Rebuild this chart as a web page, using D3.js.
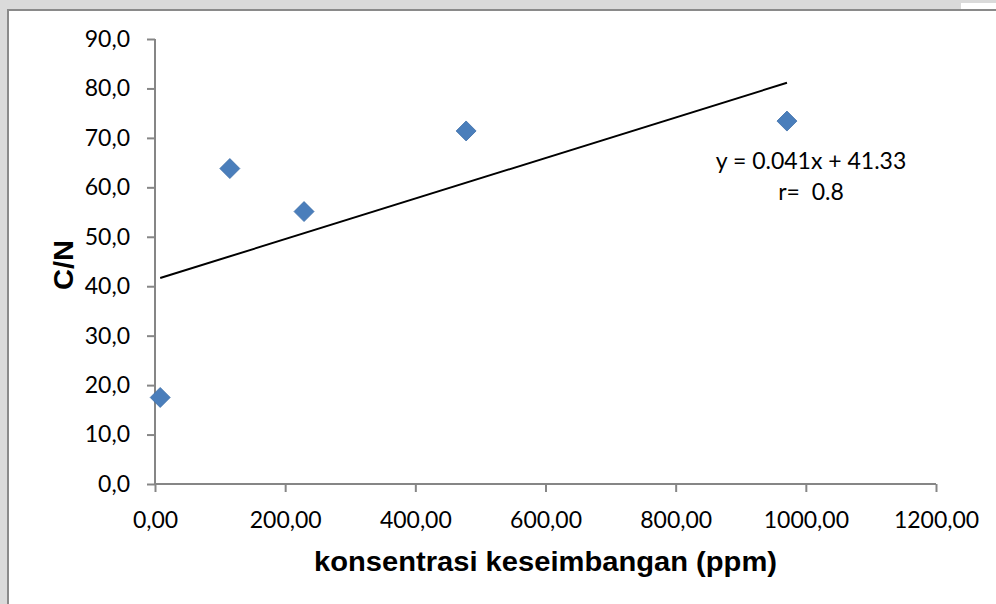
<!DOCTYPE html>
<html>
<head>
<meta charset="utf-8">
<script src="https://cdn.jsdelivr.net/npm/d3@7"></script>
<style>
  html, body { margin: 0; padding: 0; background: #dadada; }
  svg { display: block; }
</style>
</head>
<body>
<svg id="chart" width="996" height="604"></svg>
<script>
// ---- data ----
const concentration = [8, 115, 229, 478, 971];       // konsentrasi keseimbangan (ppm)
const cnRatio       = [17.5, 63.8, 55.1, 71.4, 73.4]; // C/N
const xTicks = [0, 200, 400, 600, 800, 1000, 1200];
const yTicks = [0, 10, 20, 30, 40, 50, 60, 70, 80, 90];
const trendSlope = 0.041;
const trendIntercept = 41.33;
const equationLines = ["y = 0.041x + 41.33", "r=  0.8"];
const xTitle = "konsentrasi keseimbangan (ppm)";
const yTitle = "C/N";

const svg = d3.select("#chart");
const W = 996, H = 604;

// background: grey page strip + white chart area with border
svg.append("rect").attr("x", 0).attr("y", 0).attr("width", W).attr("height", H).attr("fill", "#dadada");
svg.append("rect").attr("x", 961).attr("y", 3).attr("width", 35).attr("height", 8).attr("fill", "#ffffff");
svg.append("rect").attr("x", 8).attr("y", 10).attr("width", W).attr("height", H)
  .attr("fill", "#ffffff").attr("stroke", "#8a8a8a").attr("stroke-width", 2);

const loc = d3.formatLocale({decimal: ",", thousands: "", grouping: [3], currency: ["", ""]});
const fx = loc.format(".2f"), fy = loc.format(".1f");

const x = d3.scaleLinear().domain([0, 1200]).range([155, 936]);
const y = d3.scaleLinear().domain([0, 90]).range([484, 39]);

const axisColor = "#868686";
const font = "Lato, 'Open Sans', sans-serif";

// Y axis
const gy = svg.append("g").attr("transform", `translate(${x(0)},0)`)
  .call(d3.axisLeft(y).tickValues(yTicks).tickFormat(fy).tickSize(8).tickPadding(17));
// X axis
const gx = svg.append("g").attr("transform", `translate(0,${y(0)})`)
  .call(d3.axisBottom(x).tickValues(xTicks).tickFormat(fx).tickSize(8).tickPadding(20));

[gx, gy].forEach(g => {
  g.select(".domain").attr("stroke", axisColor).attr("stroke-width", 2);
  g.selectAll(".tick line").attr("stroke", axisColor).attr("stroke-width", 2);
  g.selectAll(".tick text").attr("fill", "#000").style("font-family", font).style("font-size", "23px");
});
gy.select(".domain").attr("d", `M0,${y(90)}V${y(0)}`);
gx.select(".domain").attr("d", `M${x(0)},0H${x(1200)}`);

// titles
svg.append("text").attr("x", 314).attr("y", 571)
  .attr("textLength", 463).attr("lengthAdjust", "spacingAndGlyphs")
  .style("font-family", "Arial, 'Liberation Sans', sans-serif").style("font-weight", "bold")
  .style("font-size", "28px").text(xTitle);
svg.append("text").attr("transform", `translate(73,290) rotate(-90)`)
  .attr("textLength", 50).attr("lengthAdjust", "spacingAndGlyphs")
  .style("font-family", "Arial, 'Liberation Sans', sans-serif").style("font-weight", "bold")
  .style("font-size", "28px").text(yTitle);

// trendline across the data range
const xr = d3.extent(concentration);
svg.append("line")
  .attr("x1", x(xr[0])).attr("y1", y(trendSlope * xr[0] + trendIntercept))
  .attr("x2", x(xr[1])).attr("y2", y(trendSlope * xr[1] + trendIntercept))
  .attr("stroke", "#000").attr("stroke-width", 2);

// markers (diamonds)
const pts = concentration.map((c, i) => ({x: c, y: cnRatio[i]}));
svg.append("g").selectAll("path").data(pts).join("path")
  .attr("transform", d => `translate(${x(d.x)},${y(d.y)})`)
  .attr("d", "M0,-10L10,0L0,10L-10,0Z")
  .attr("fill", "#4a7ebb").attr("stroke", "#3d6ea8").attr("stroke-width", 0.8);

// equation label
svg.append("g").selectAll("text").data(equationLines).join("text")
  .attr("x", 811).attr("y", (d, i) => 169 + i * 31).attr("text-anchor", "middle")
  .style("white-space", "pre")
  .style("font-family", font).style("font-size", "23px").attr("fill", "#000")
  .text(d => d);
</script>
</body>
</html>
